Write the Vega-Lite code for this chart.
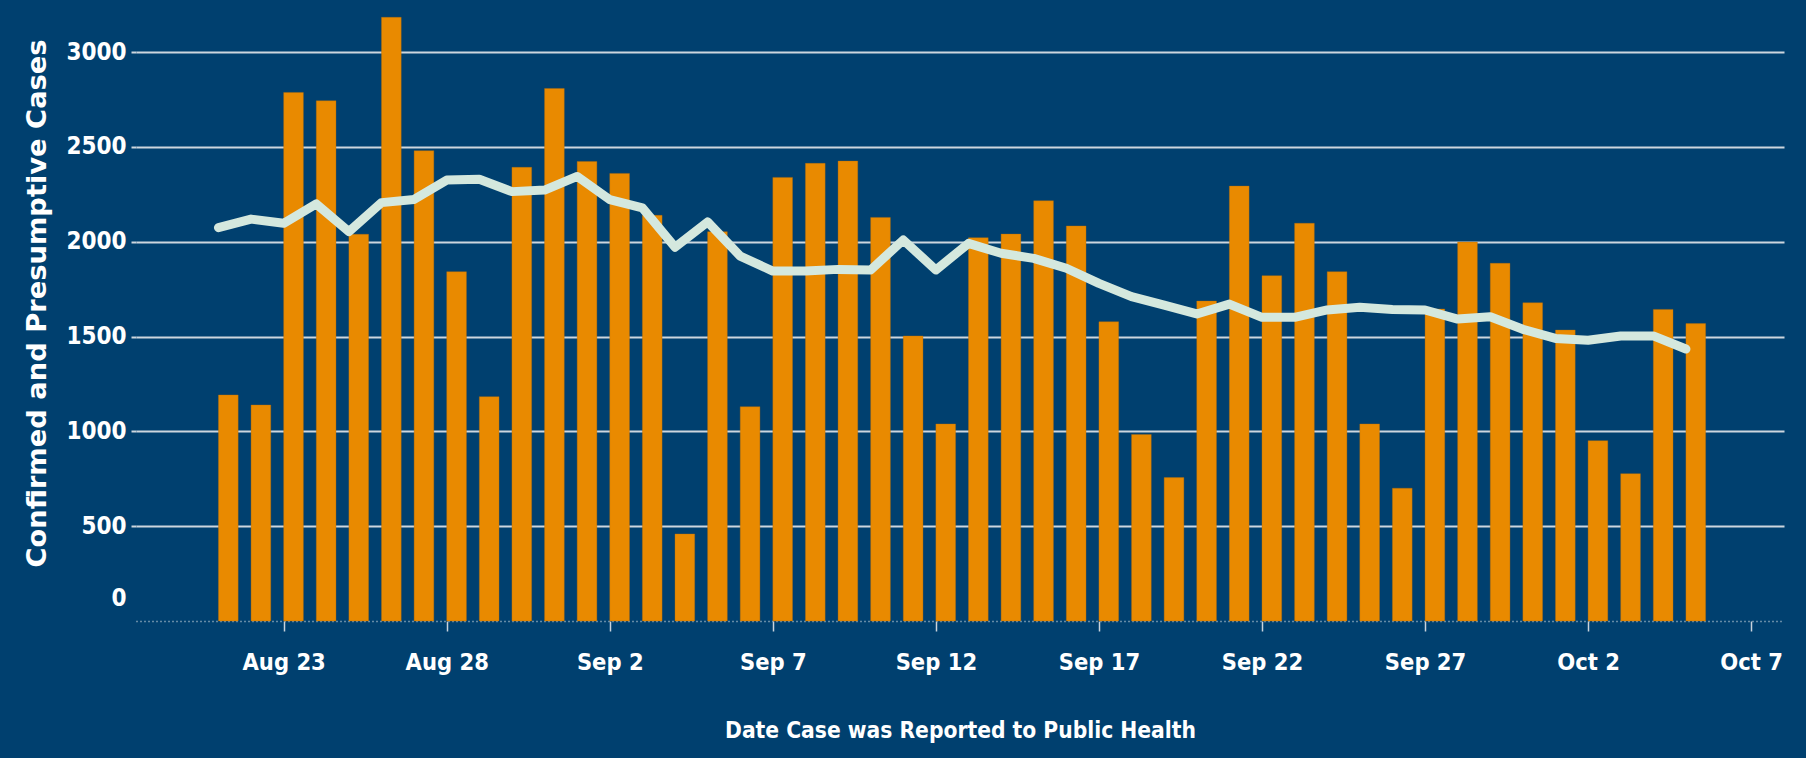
{
  "$schema": "https://vega.github.io/schema/vega-lite/v6.json",
  "width": 1648,
  "height": 616,
  "autosize": {"type": "none"},
  "padding": {"left": 136, "top": 5, "right": 22, "bottom": 137},
  "background": "#00406f",
  "config": {"view": {"stroke": null}},
  "data": {"values": [
    {"date": "2020-08-21T00:00:00", "cases": 1192, "avg": 2074},
    {"date": "2020-08-22T00:00:00", "cases": 1139, "avg": 2119},
    {"date": "2020-08-23T00:00:00", "cases": 2787, "avg": 2097},
    {"date": "2020-08-24T00:00:00", "cases": 2743, "avg": 2199},
    {"date": "2020-08-25T00:00:00", "cases": 2039, "avg": 2053},
    {"date": "2020-08-26T00:00:00", "cases": 3183, "avg": 2206},
    {"date": "2020-08-27T00:00:00", "cases": 2480, "avg": 2223},
    {"date": "2020-08-28T00:00:00", "cases": 1842, "avg": 2325},
    {"date": "2020-08-29T00:00:00", "cases": 1183, "avg": 2329},
    {"date": "2020-08-30T00:00:00", "cases": 2392, "avg": 2264},
    {"date": "2020-08-31T00:00:00", "cases": 2808, "avg": 2272},
    {"date": "2020-09-01T00:00:00", "cases": 2423, "avg": 2344},
    {"date": "2020-09-02T00:00:00", "cases": 2360, "avg": 2222},
    {"date": "2020-09-03T00:00:00", "cases": 2139, "avg": 2178},
    {"date": "2020-09-04T00:00:00", "cases": 459, "avg": 1971},
    {"date": "2020-09-05T00:00:00", "cases": 2053, "avg": 2104},
    {"date": "2020-09-06T00:00:00", "cases": 1130, "avg": 1924},
    {"date": "2020-09-07T00:00:00", "cases": 2339, "avg": 1845},
    {"date": "2020-09-08T00:00:00", "cases": 2413, "avg": 1845},
    {"date": "2020-09-09T00:00:00", "cases": 2425, "avg": 1854},
    {"date": "2020-09-10T00:00:00", "cases": 2128, "avg": 1851},
    {"date": "2020-09-11T00:00:00", "cases": 1503, "avg": 2009},
    {"date": "2020-09-12T00:00:00", "cases": 1039, "avg": 1851},
    {"date": "2020-09-13T00:00:00", "cases": 2021, "avg": 1991},
    {"date": "2020-09-14T00:00:00", "cases": 2040, "avg": 1939},
    {"date": "2020-09-15T00:00:00", "cases": 2216, "avg": 1912},
    {"date": "2020-09-16T00:00:00", "cases": 2083, "avg": 1860},
    {"date": "2020-09-17T00:00:00", "cases": 1578, "avg": 1780},
    {"date": "2020-09-18T00:00:00", "cases": 984, "avg": 1710},
    {"date": "2020-09-19T00:00:00", "cases": 756, "avg": 1666},
    {"date": "2020-09-20T00:00:00", "cases": 1687, "avg": 1619},
    {"date": "2020-09-21T00:00:00", "cases": 2293, "avg": 1671},
    {"date": "2020-09-22T00:00:00", "cases": 1821, "avg": 1601},
    {"date": "2020-09-23T00:00:00", "cases": 2097, "avg": 1601},
    {"date": "2020-09-24T00:00:00", "cases": 1842, "avg": 1640},
    {"date": "2020-09-25T00:00:00", "cases": 1039, "avg": 1654},
    {"date": "2020-09-26T00:00:00", "cases": 700, "avg": 1643},
    {"date": "2020-09-27T00:00:00", "cases": 1645, "avg": 1640},
    {"date": "2020-09-28T00:00:00", "cases": 1998, "avg": 1592},
    {"date": "2020-09-29T00:00:00", "cases": 1886, "avg": 1604},
    {"date": "2020-09-30T00:00:00", "cases": 1678, "avg": 1538},
    {"date": "2020-10-01T00:00:00", "cases": 1534, "avg": 1490},
    {"date": "2020-10-02T00:00:00", "cases": 951, "avg": 1480},
    {"date": "2020-10-03T00:00:00", "cases": 777, "avg": 1503},
    {"date": "2020-10-04T00:00:00", "cases": 1643, "avg": 1503},
    {"date": "2020-10-05T00:00:00", "cases": 1568, "avg": 1434}
  ]},
  "encoding": {
    "x": {
      "field": "date", "type": "temporal",
      "scale": {"domain": [
        {"year": 2020, "month": 8, "date": 18, "hours": 15},
        {"year": 2020, "month": 10, "date": 7, "hours": 20, "minutes": 30}
      ], "nice": false},
      "axis": {
        "values": [
          {"year": 2020, "month": 8, "date": 23},
          {"year": 2020, "month": 8, "date": 28},
          {"year": 2020, "month": 9, "date": 2},
          {"year": 2020, "month": 9, "date": 7},
          {"year": 2020, "month": 9, "date": 12},
          {"year": 2020, "month": 9, "date": 17},
          {"year": 2020, "month": 9, "date": 22},
          {"year": 2020, "month": 9, "date": 27},
          {"year": 2020, "month": 10, "date": 2},
          {"year": 2020, "month": 10, "date": 7}
        ],
        "format": "%b %-d",
        "grid": false,
        "domain": true,
        "domainColor": "#c9d3dc",
        "domainDash": [1, 3],
        "domainWidth": 1.5,
        "ticks": true,
        "tickColor": "#c9d3dc",
        "tickSize": 10,
        "tickWidth": 1.5,
        "labelFont": "DejaVu Sans Condensed, sans-serif",
        "labelFontWeight": "bold",
        "labelFontSize": 23.5,
        "labelColor": "#ffffff",
        "labelBaseline": "alphabetic",
        "labelPadding": 38,
        "labelFlush": false,
        "labelOverlap": false,
        "title": "Date Case was Reported to Public Health",
        "titleFont": "DejaVu Sans Condensed, sans-serif",
        "titleFontWeight": "bold",
        "titleFontSize": 22.6,
        "titleColor": "#ffffff",
        "titleBaseline": "alphabetic",
        "titleY": 116
      }
    }
  },
  "layer": [
    {
      "mark": {"type": "bar", "color": "#e98a00", "width": 19.7, "xOffset": 9.85, "stroke": "#b86e08", "strokeWidth": 0.6, "strokeOpacity": 0.6},
      "encoding": {
        "y": {
          "field": "cases", "type": "quantitative",
          "scale": {"domain": [0, 3248], "nice": false},
          "axis": {
            "values": [0, 500, 1000, 1500, 2000, 2500, 3000],
            "format": "d",
            "grid": true,
            "gridColor": "#cdd6de",
            "gridWidth": 2,
            "gridOpacity": {"condition": {"test": "datum.value === 0", "value": 0}, "value": 1},
            "domain": false,
            "ticks": true,
            "tickColor": "#cdd6de",
            "tickSize": 5,
            "tickWidth": 2,
            "tickOpacity": {"condition": {"test": "datum.value === 0", "value": 0}, "value": 1},
            "labelFont": "DejaVu Sans Condensed, sans-serif",
            "labelFontWeight": "bold",
            "labelFontSize": 24,
            "labelColor": "#ffffff",
            "labelPadding": 5,
            "labelOffset": {"condition": {"test": "datum.value === 0", "value": -23}, "value": 0},
            "title": "Confirmed and Presumptive Cases",
            "titleFont": "DejaVu Sans",
            "titleFontWeight": "bold",
            "titleFontSize": 27.3,
            "titleColor": "#ffffff",
            "titleBaseline": "middle",
            "titleX": -99,
            "titleY": 298
          }
        }
      }
    },
    {
      "mark": {"type": "line", "color": "#d4e8de", "strokeWidth": 9, "strokeJoin": "round", "strokeCap": "round"},
      "encoding": {
        "y": {"field": "avg", "type": "quantitative"}
      }
    }
  ]
}
